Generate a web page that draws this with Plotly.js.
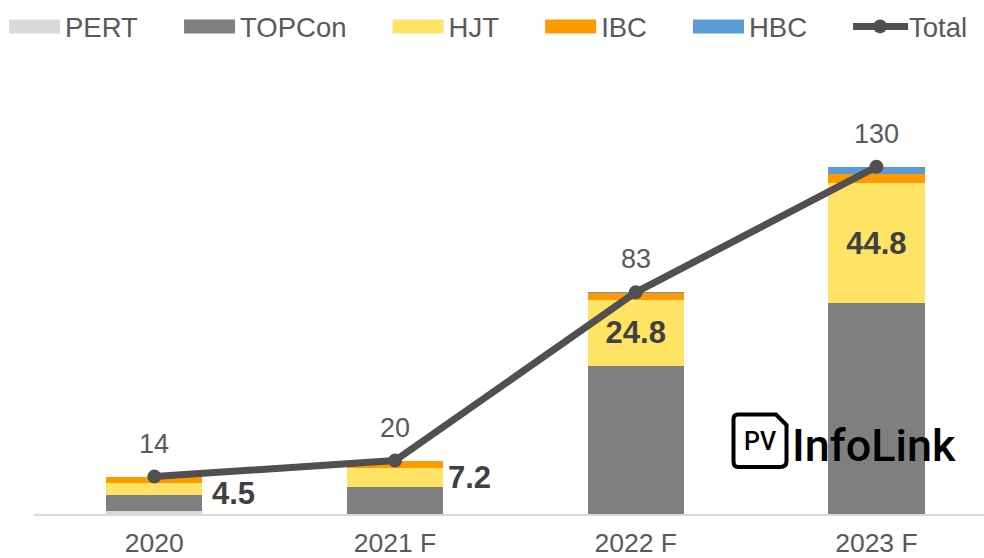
<!DOCTYPE html>
<html>
<head>
<meta charset="utf-8">
<script src="https://cdn.plot.ly/plotly-3.0.1.min.js"></script>
<style>html,body{margin:0;padding:0;background:#fff;overflow:hidden}</style>
</head>
<body>
<div id="chart" style="width:984px;height:558px"></div>
<script>
const categories = ['2020', '2021 F', '2022 F', '2023 F'];
const pert = [1.1, 0, 0, 0];
const topcon = [6, 10, 55.4, 79];
const hjt = [4.5, 7.2, 24.8, 44.8];
const ibc = [2.4, 2.8, 2.6, 3.7];
const hbc = [0, 0, 0.4, 2.5];
const total = [14, 20, 83, 130];
const hjtInsideLabels = ['', '', '24.8', '44.8'];
const totalLabels = ['14', '20', '83', '130'];

const W = 984, H = 558;
const m = {l: 34, r: 0, t: 60, b: 44, autoexpand: false};
const FONT = 'Liberation Sans, Arial, sans-serif';
const TXT = '#595959';
const BOLD = '#404040';
const px = x => (x - m.l) / (W - m.l - m.r);
const py = y => 1 - (y - m.t) / (H - m.t - m.b);

const bar = (name, y, color, extra) => Object.assign({
  type: 'bar', name, x: categories, y, marker: {color, line: {width: 0}}, width: 0.4, cliponaxis: false
}, extra || {});

const traces = [
  bar('PERT', pert, '#d9d9d9'),
  bar('TOPCon', topcon, '#7f7f7f'),
  bar('HJT', hjt, '#ffe364', {
    text: hjtInsideLabels, textposition: 'inside', insidetextanchor: 'middle', constraintext: 'none',
    textangle: 0, insidetextfont: {family: FONT, size: 31, color: BOLD, weight: 700}
  }),
  bar('IBC', ibc, '#ff9a00'),
  bar('HBC', hbc, '#5b9bd5'),
  {
    type: 'scatter', mode: 'lines+markers', name: 'Total', x: categories, y: total,
    line: {color: '#505050', width: 7}, marker: {color: '#505050', size: 14},
    cliponaxis: false
  }
];

const P = (x, y) => px(x).toFixed(5) + ' ' + py(y).toFixed(5);
const iconPath = 'M ' + P(738, 414.5) + ' L ' + P(776, 414.5) + ' L ' + P(786.5, 425) + ' L ' + P(786.5, 461) +
  ' Q ' + P(786.5, 467) + ' ' + P(780, 467) + ' L ' + P(738, 467) + ' Q ' + P(733.5, 467) + ' ' + P(733.5, 461) +
  ' L ' + P(733.5, 419) + ' Q ' + P(733.5, 414.5) + ' ' + P(738, 414.5) + ' Z';

const totalAnnotations = totalLabels.map((t, i) => ({
  x: i, y: total[i], xref: 'x', yref: 'y', text: t, showarrow: false, yshift: 33,
  xanchor: 'center', yanchor: 'middle', font: {family: FONT, size: 27, color: TXT}
}));

const layout = {
  width: W, height: H, margin: m, paper_bgcolor: '#fff', plot_bgcolor: 'rgba(0,0,0,0)',
  barmode: 'stack', showlegend: true,
  font: {family: FONT, color: TXT, size: 26},
  legend: {
    orientation: 'h', x: px(4), xanchor: 'left', y: py(2), yanchor: 'top',
    itemwidth: 51, traceorder: 'normal', itemclick: false, bgcolor: 'rgba(0,0,0,0)',
    font: {family: FONT, size: 27.5, color: TXT}
  },
  xaxis: {
    type: 'category', categoryorder: 'array', categoryarray: categories, range: [-0.5, 3.447],
    showgrid: false, zeroline: false, showline: true, linecolor: '#d9d9d9', linewidth: 2,
    ticks: '', tickfont: {family: FONT, size: 26.5, color: TXT}, ticklabelstandoff: 4
  },
  yaxis: {range: [0, 170], visible: false, showgrid: false, zeroline: false},
  shapes: [{type: 'path', xref: 'paper', yref: 'paper', path: iconPath, line: {color: '#000', width: 4}, fillcolor: 'rgba(0,0,0,0)', layer: 'above'}],
  annotations: totalAnnotations.concat([
    {x: 0, y: pert[0] + topcon[0] + hjt[0] / 2 - 1.8, xref: 'x', yref: 'y', text: '<b>' + hjt[0] + '</b>', showarrow: false, xshift: 79, xanchor: 'center', yanchor: 'middle', font: {family: FONT, size: 31, color: BOLD}},
    {x: 1, y: topcon[1] + hjt[1] / 2, xref: 'x', yref: 'y', text: '<b>' + hjt[1] + '</b>', showarrow: false, xshift: 74, xanchor: 'center', yanchor: 'middle', font: {family: FONT, size: 31, color: BOLD}},
    {x: px(760), y: py(441), xref: 'paper', yref: 'paper', xanchor: 'center', yanchor: 'middle', text: 'PV', showarrow: false, font: {family: 'Roboto, sans-serif', size: 25, color: '#000', weight: 500}},
    {x: px(874), y: py(445), xref: 'paper', yref: 'paper', xanchor: 'center', yanchor: 'middle', text: 'InfoLink', showarrow: false, font: {family: 'Roboto, sans-serif', size: 45, color: '#000', weight: 500}}
  ])
};

Plotly.newPlot('chart', traces, layout, {displayModeBar: false, staticPlot: true}).then(() => {
  document.querySelectorAll('.legend .legendpoints path').forEach(p => {
    if (!p.classList.contains('scatterpts')) p.setAttribute('d', 'M-25.5,7H25.5V-7H-25.5Z');
  });
  document.querySelectorAll('.legend .legendlines path').forEach(p => {
    p.setAttribute('d', 'M5,0h55');
  });
  document.querySelectorAll('.legend path.scatterpts').forEach(p => {
    p.setAttribute('transform', 'translate(32,0)');
  });
  const box = document.querySelector('.legend .scrollbox');
  if (box) box.removeAttribute('clip-path');
  document.querySelectorAll('.legend .traces').forEach((g, i) => {
    const t = g.getAttribute('transform') || '';
    const match = /translate\(([-\d.]+)[, ]+([-\d.]+)\)/.exec(t);
    if (match) g.setAttribute('transform', 'translate(' + (parseFloat(match[1]) + i * 36) + ',' + match[2] + ')');
  });
});
</script>
</body>
</html>
